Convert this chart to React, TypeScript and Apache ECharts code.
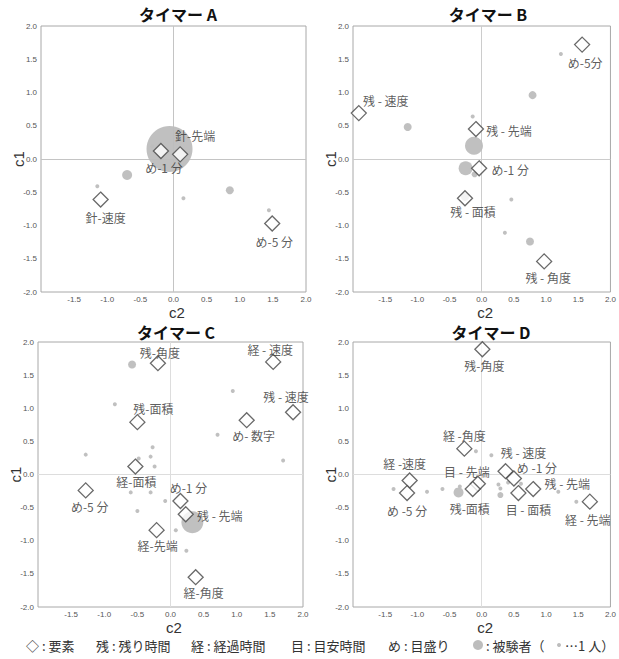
import React, { useEffect, useRef } from "react";
import * as echarts from "echarts";

// ---------- data ----------
const panelTitles = ["タイマー A", "タイマー B", "タイマー C", "タイマー D"];
const tickValues = [-2.0, -1.5, -1.0, -0.5, 0.0, 0.5, 1.0, 1.5, 2.0];

// Timer A
const aElemNames = ["め-1 分", "針-先端", "針-速度", "め-5 分"];
const aElemC2 = [-0.19, 0.10, -1.10, 1.49];
const aElemC1 = [0.12, 0.07, -0.61, -0.97];
const aSubjC2 = [-0.06, -0.70, 0.85, -1.15, 0.15, 1.44, -0.32, 0.17];
const aSubjC1 = [0.15, -0.24, -0.47, -0.41, -0.59, -0.77, 0.19, 0.10];
const aSubjN = [22, 4, 3, 1, 1, 1, 1, 1];

// Timer B
const bElemNames = ["め-5分", "残 - 速度", "残 - 先端", "め-1 分", "残 - 面積", "残 - 角度"];
const bElemC2 = [1.56, -1.91, -0.09, -0.04, -0.26, 0.97];
const bElemC1 = [1.72, 0.69, 0.45, -0.14, -0.59, -1.54];
const bSubjC2 = [1.23, 0.79, -1.15, -0.14, -0.12, -0.25, -0.11, -0.26, 0.46, 0.36, 0.75];
const bSubjC1 = [1.58, 0.96, 0.48, 0.64, 0.20, -0.14, -0.23, -0.57, -0.61, -1.11, -1.24];
const bSubjN = [1, 3, 3, 1, 8, 6, 2, 3, 1, 1, 3];

// Timer C
const cElemNames = ["残-角度", "経 - 速度", "残 - 速度", "残-面積", "め- 数字", "経-面積", "め-5 分", "め-1 分", "残 - 先端", "経-先端", "経-角度"];
const cElemC2 = [-0.19, 1.55, 1.85, -0.50, 1.15, -0.53, -1.28, 0.15, 0.23, -0.21, 0.38];
const cElemC1 = [1.68, 1.70, 0.94, 0.79, 0.82, 0.12, -0.24, -0.40, -0.60, -0.84, -1.55];
const cSubjC2 = [-0.58, 0.94, -0.84, 0.71, 1.70, -1.28, -0.27, -0.48, -0.30, -0.24, -0.60, -0.30, -0.08, -0.50, 0.33, 0.08, 0.24];
const cSubjC1 = [1.66, 1.26, 1.06, 0.60, 0.21, 0.30, 0.41, 0.24, 0.27, 0.12, -0.27, -0.27, -0.40, -0.55, -0.72, -0.84, -1.15];
const cSubjN = [3, 1, 1, 1, 1, 1, 1, 1, 1, 1, 1, 1, 1, 1, 10, 1, 1];

// Timer D
const dElemNames = ["残-角度", "経 -角度", "残 - 速度", "め -1 分", "経 -速度", "め -5 分", "目 - 先端", "残-面積", "目 - 面積", "残 - 先端", "経 - 先端"];
const dElemC2 = [0.01, -0.27, 0.37, 0.50, -1.12, -1.16, -0.06, -0.14, 0.57, 0.80, 1.68];
const dElemC1 = [1.89, 0.39, 0.05, -0.06, -0.09, -0.28, -0.14, -0.22, -0.28, -0.22, -0.41];
const dSubjC2 = [-0.09, 0.15, -1.37, -0.85, -0.61, -0.34, 0.26, 0.41, 0.61, 1.19, 1.47, -0.36, 0.29, 0.29];
const dSubjC1 = [0.35, 0.29, -0.22, -0.26, -0.22, -0.18, -0.15, -0.12, -0.14, -0.26, -0.41, -0.27, -0.31, -0.21];
const dSubjN = [1, 1, 1, 1, 1, 1, 1, 1, 1, 1, 1, 4, 2, 1];

// legend texts
const legendItems = ["◇ : 要素", "残 : 残り時間", "経 : 経過時間", "目 : 目安時間", "め : 目盛り"];
const legendSubject = " : 被験者（";
const legendOne = "…1 人）";

// ---------- layout (styles/positions, not data) ----------
const grids = [
  { left: 41, top: 26, width: 265, height: 266 },
  { left: 353, top: 26, width: 266, height: 266 },
  { left: 38, top: 342, width: 265, height: 265 },
  { left: 353, top: 342, width: 266, height: 265 },
];
const titlePos = [[178, 14], [488, 14], [176, 332], [491, 332]];
const zeroLineColors = ["#c4c4c4", "#cccccc", "#dddddd", "#dddddd"];
const labelOffsets = [
  [[3, 16], [15, -19], [5, 18], [2, 18]],
  [[3, 18], [27, -13], [33, 1], [31, 1], [8, 13], [4, 16]],
  [[2, -11], [-3, -12], [-7, -16], [16, -14], [7, 15], [1, 15], [4, 16], [8, -14], [34, 1], [1, 15], [8, 15]],
  [[2, 16], [0, -13], [18, -19], [23, -11], [-5, -17], [0, 17], [-11, -12], [-3, 19], [10, 16], [34, -6], [-2, 18]],
];
const legendX = [26, 96, 191, 291, 388];

const FONT = "'Noto Sans CJK JP', 'Noto Sans', sans-serif";
const LATIN = "'Liberation Sans', Arial, sans-serif";

const panels = [
  { names: aElemNames, ex: aElemC2, ey: aElemC1, sx: aSubjC2, sy: aSubjC1, sn: aSubjN },
  { names: bElemNames, ex: bElemC2, ey: bElemC1, sx: bSubjC2, sy: bSubjC1, sn: bSubjN },
  { names: cElemNames, ex: cElemC2, ey: cElemC1, sx: cSubjC2, sy: cSubjC1, sn: cSubjN },
  { names: dElemNames, ex: dElemC2, ey: dElemC1, sx: dSubjC2, sy: dSubjC1, sn: dSubjN },
];

function buildOption() {
  const fmt = (v: number) => v.toFixed(1);
  const xAxis = panels.map((_, i) => ({
    type: "value",
    gridIndex: i,
    min: tickValues[0],
    max: tickValues[tickValues.length - 1],
    interval: 0.5,
    name: "c2",
    nameLocation: "middle",
    nameGap: 13,
    nameMoveOverlap: false,
    nameTextStyle: { fontSize: 15, lineHeight: 14, color: "#333", fontFamily: LATIN, verticalAlign: "top", padding: [0, 0, 0, 7] },
    axisLine: { show: false, onZero: false },
    axisTick: { show: false },
    splitLine: { show: false },
    axisLabel: { fontSize: 8, lineHeight: 8, color: "#555", margin: 3, showMinLabel: false, formatter: fmt, fontFamily: LATIN },
  }));
  const yAxis = panels.map((_, i) => ({
    type: "value",
    gridIndex: i,
    min: tickValues[0],
    max: tickValues[tickValues.length - 1],
    interval: 0.5,
    name: "c1",
    nameLocation: "middle",
    nameGap: 16,
    nameRotate: 90,
    nameMoveOverlap: false,
    nameTextStyle: { fontSize: 15, lineHeight: 14, color: "#333", fontFamily: LATIN },
    axisLine: { show: false, onZero: false },
    axisTick: { show: false },
    splitLine: { show: false },
    axisLabel: { fontSize: 8, color: "#555", margin: 4, formatter: fmt, fontFamily: LATIN },
  }));
  const series: any[] = [];
  panels.forEach((p, i) => {
    series.push({
      type: "scatter",
      xAxisIndex: i,
      yAxisIndex: i,
      z: 2,
      symbol: "circle",
      symbolSize: (v: number[]) => 2 + 2 * v[2],
      itemStyle: { color: "#bdbdbd", opacity: 0.95 },
      data: p.sx.map((x, k) => [x, p.sy[k], p.sn[k]]),
      silent: true,
    });
    series.push({
      type: "scatter",
      xAxisIndex: i,
      yAxisIndex: i,
      z: 3,
      symbol: "diamond",
      symbolSize: 15,
      itemStyle: { color: "#ffffff", borderColor: "#444", borderWidth: 1.3 },
      data: p.ex.map((x, k) => ({
        value: [x, p.ey[k]],
        label: {
          show: true,
          position: "inside",
          offset: labelOffsets[i][k],
          formatter: p.names[k],
          color: "#333",
          fontSize: 12,
          lineHeight: 13,
          fontFamily: FONT,
        },
      })),
      markLine: {
        silent: true,
        symbol: ["none", "none"],
        label: { show: false },
        lineStyle: { color: zeroLineColors[i], type: "solid", width: 1 },
        data: [{ xAxis: 0 }, { yAxis: 0 }],
        z: 1,
      },
    });
  });

  const graphic: any[] = [];
  panelTitles.forEach((t, i) => {
    graphic.push({
      type: "text",
      x: titlePos[i][0],
      y: titlePos[i][1],
      style: {
        text: t,
        textAlign: "center",
        textVerticalAlign: "middle",
        fontSize: 16,
        lineHeight: 16,
        fontWeight: "bold",
        fontFamily: FONT,
        fill: "#111",
      },
    });
  });
  legendItems.forEach((t, i) => {
    graphic.push({
      type: "text",
      x: legendX[i],
      y: 645,
      style: { text: t, textAlign: "left", textVerticalAlign: "middle", fontSize: 13, fontFamily: FONT, fill: "#333" },
    });
  });
  graphic.push({ type: "circle", shape: { cx: 478, cy: 645, r: 5 }, style: { fill: "#bdbdbd" } });
  graphic.push({
    type: "text",
    x: 483,
    y: 645,
    style: { text: legendSubject, textAlign: "left", textVerticalAlign: "middle", fontSize: 13, fontFamily: FONT, fill: "#333" },
  });
  graphic.push({ type: "circle", shape: { cx: 559, cy: 645, r: 2 }, style: { fill: "#bdbdbd" } });
  graphic.push({
    type: "text",
    x: 565,
    y: 645,
    style: { text: legendOne, textAlign: "left", textVerticalAlign: "middle", fontSize: 13, fontFamily: FONT, fill: "#333" },
  });

  return {
    animation: false,
    backgroundColor: "#ffffff",
    textStyle: { fontFamily: FONT },
    grid: grids.map((g) => ({ ...g, show: true, borderColor: "#a8a8a8", borderWidth: 1, backgroundColor: "transparent" })),
    xAxis,
    yAxis,
    series,
    graphic,
  };
}

export default function App() {
  const ref = useRef<HTMLDivElement>(null);
  useEffect(() => {
    if (!ref.current) return;
    const chart = echarts.init(ref.current, null, { renderer: "svg" });
    chart.setOption(buildOption() as any);
    return () => chart.dispose();
  }, []);
  return (
    <div
      ref={ref}
      style={{ position: "absolute", left: 0, top: 0, width: 619, height: 659, background: "#fff" }}
    />
  );
}
